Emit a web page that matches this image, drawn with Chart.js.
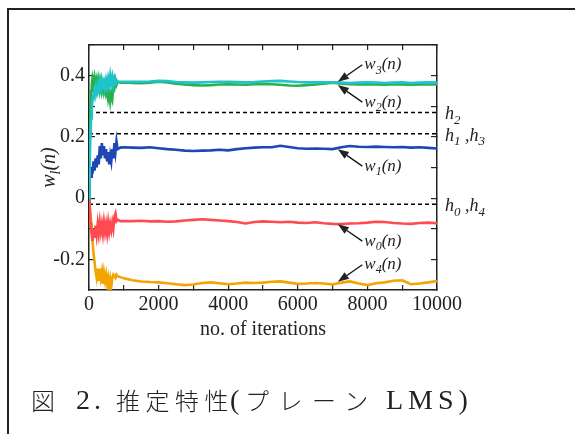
<!DOCTYPE html>
<html lang="ja">
<head>
<meta charset="utf-8">
<title>推定特性(プレーン LMS)</title>
<script src="https://cdn.jsdelivr.net/npm/chart.js"></script>
<style>
  body { margin: 0; background: #fff; }
  #wrap { position: relative; width: 575px; height: 434px; overflow: hidden; }
  #frame { position: absolute; left: 7px; top: 8px; width: 575px; height: 434px;
           border-left: 2px solid #222; border-top: 2px solid #222; }
  #chart { position: absolute; left: 0; top: 0; }
  .cap { position: absolute; top: 388px; line-height: 24px; color: #222; white-space: nowrap; }
  .cjk { font-family: "Noto Sans CJK JP", sans-serif; font-size: 24px; font-weight: 300; }
  .lat { font-family: "Liberation Serif", serif; font-size: 28px; }
</style>
</head>
<body>
<div id="wrap">
  <div id="frame"></div>
  <canvas id="chart" width="575" height="434"></canvas>
  <span class="cap cjk" style="left:31px">図</span>
  <span class="cap lat" style="left:76px; letter-spacing:4px">2.</span>
  <span class="cap cjk" style="left:116px; letter-spacing:5.5px">推定特性</span>
  <span class="cap lat" style="left:230px">(</span>
  <span class="cap cjk" style="left:245px; letter-spacing:9.5px">プレーン</span>
  <span class="cap lat" style="left:386px; letter-spacing:5px">LMS)</span>
</div>
<script>
// Iterationen (dichter im Einschwingbereich)
const iterations = [0, 20, 40, 60, 80, 100, 130, 160, 190, 220, 250, 280, 310, 340, 370, 400, 430, 460, 490, 520,
  550, 580, 610, 640, 670, 700, 730, 760, 790, 820, 900, 1000,
  1250, 1500, 1750, 2000, 2250, 2500, 2750, 3000, 3250, 3500, 3750, 4000, 4250, 4500, 4750, 5000, 5250, 5500,
  5750, 6000, 6250, 6500, 6750, 7000, 7250, 7500, 7750, 8000, 8250, 8500, 8750, 9000, 9250, 9500, 9750, 10000];

// Koeffizienten w0..w4
const w3 = [0, 0.12, 0.20, 0.26, 0.29, 0.32, 0.34, 0.33, 0.36, 0.345, 0.37, 0.355, 0.38, 0.36, 0.385, 0.365, 0.38, 0.36, 0.385, 0.365,
  0.39, 0.37, 0.40, 0.375, 0.395, 0.37, 0.39, 0.375, 0.385, 0.38, 0.38, 0.38,
  0.380, 0.380, 0.381, 0.383, 0.382, 0.379, 0.378, 0.377, 0.378, 0.379, 0.380, 0.380, 0.379, 0.378, 0.379, 0.381, 0.382, 0.383,
  0.381, 0.379, 0.378, 0.378, 0.378, 0.378, 0.377, 0.376, 0.377, 0.378, 0.377, 0.376, 0.377, 0.378, 0.376, 0.377, 0.378, 0.377];
const w2 = [0, 0.20, 0.30, 0.35, 0.37, 0.39, 0.37, 0.395, 0.375, 0.39, 0.36, 0.385, 0.355, 0.38, 0.35, 0.37, 0.345, 0.36, 0.34, 0.355,
  0.325, 0.345, 0.315, 0.34, 0.325, 0.37, 0.36, 0.385, 0.37, 0.38, 0.377, 0.378,
  0.376, 0.375, 0.377, 0.380, 0.378, 0.374, 0.371, 0.369, 0.368, 0.369, 0.371, 0.372, 0.371, 0.370, 0.372, 0.373, 0.372, 0.370,
  0.368, 0.367, 0.369, 0.371, 0.374, 0.377, 0.374, 0.372, 0.371, 0.372, 0.371, 0.370, 0.372, 0.371, 0.370, 0.371, 0.372, 0.371];
const w1 = [0, 0.06, 0.09, 0.07, 0.10, 0.08, 0.12, 0.09, 0.13, 0.10, 0.14, 0.11, 0.17, 0.13, 0.18, 0.14, 0.17, 0.13, 0.16, 0.12,
  0.15, 0.11, 0.14, 0.12, 0.16, 0.13, 0.18, 0.15, 0.185, 0.16, 0.165, 0.166,
  0.165, 0.164, 0.166, 0.163, 0.160, 0.158, 0.155, 0.154, 0.155, 0.156, 0.158, 0.156, 0.160, 0.163, 0.165, 0.166, 0.166, 0.171,
  0.167, 0.163, 0.161, 0.162, 0.161, 0.160, 0.166, 0.170, 0.168, 0.167, 0.168, 0.167, 0.166, 0.167, 0.165, 0.166, 0.164, 0.162];
const w0 = [0, -0.03, -0.07, -0.10, -0.12, -0.14, -0.10, -0.13, -0.09, -0.12, -0.085, -0.115, -0.08, -0.11, -0.085, -0.115, -0.08, -0.11, -0.085, -0.115,
  -0.08, -0.11, -0.085, -0.105, -0.08, -0.10, -0.06, -0.05, -0.075, -0.07, -0.075, -0.075,
  -0.075, -0.074, -0.076, -0.075, -0.077, -0.076, -0.073, -0.071, -0.069, -0.071, -0.073, -0.075, -0.078, -0.083, -0.078, -0.076, -0.077, -0.079,
  -0.077, -0.080, -0.081, -0.079, -0.082, -0.084, -0.085, -0.083, -0.082, -0.080, -0.077, -0.078, -0.081, -0.083, -0.084, -0.081, -0.080, -0.082];
const w4 = [0, -0.02, -0.05, -0.08, -0.11, -0.14, -0.18, -0.21, -0.24, -0.26, -0.23, -0.27, -0.23, -0.26, -0.24, -0.28, -0.245, -0.27, -0.25, -0.28,
  -0.26, -0.29, -0.265, -0.29, -0.26, -0.25, -0.255, -0.26, -0.25, -0.255, -0.258, -0.262,
  -0.268, -0.272, -0.274, -0.275, -0.278, -0.281, -0.284, -0.282, -0.277, -0.275, -0.278, -0.281, -0.279, -0.276, -0.277, -0.276, -0.273, -0.272,
  -0.276, -0.280, -0.279, -0.277, -0.279, -0.282, -0.276, -0.272, -0.279, -0.284, -0.278, -0.275, -0.270, -0.268, -0.281, -0.279, -0.275, -0.271];

// wahre Koeffizienten (gestrichelt)
const hNames = ['h_2', 'h_1 ,h_3', 'h_0 ,h_4'];
const hValues = [0.28, 0.21, -0.02];

// Pfeil-Beschriftungen
const annNames = ['w_3(n)', 'w_2(n)', 'w_1(n)', 'w_0(n)', 'w_4(n)'];
const annValues = [0.380, 0.369, 0.160, -0.085, -0.273];
const annDir = [-1, 1, 1, 1, -1];
const annIteration = 7150;

const xTicks = [0, 2000, 4000, 6000, 8000, 10000];
const yTicks = [-0.2, 0, 0.2, 0.4];

const ink = '#222';
const serif = '"Liberation Serif", "Times New Roman", serif';

function toPoints(values) {
    return iterations.map((it, i) => ({ x: it, y: values[i] }));
}

function series(values, color) {
    return { data: toPoints(values), borderColor: color, borderWidth: 2.6, pointRadius: 0, tension: 0,
             xAxisID: 'x', yAxisID: 'y' };
}

const datasets = [
    series(w3, '#1ec3cc'),
    series(w2, '#25b24c'),
    series(w1, '#1e46b4'),
    series(w0, '#ff4a52'),
    series(w4, '#f2a500')
];
hValues.forEach(h => {
    datasets.push({ data: [{ x: 0, y: h }, { x: 10000, y: h }], borderColor: '#000', borderWidth: 1.5,
                    borderDash: [4, 3], pointRadius: 0, xAxisID: 'x', yAxisID: 'y' });
});

// Text mit Indizes: "w_3(n)" -> w, tiefgestellt 3, (n)
function richParts(text) {
    const parts = [];
    let buf = '';
    for (let i = 0; i < text.length; i++) {
        if (text[i] === '_') {
            if (buf) parts.push({ t: buf, sub: false });
            buf = '';
            parts.push({ t: text[i + 1], sub: true });
            i++;
        } else {
            buf += text[i];
        }
    }
    if (buf) parts.push({ t: buf, sub: false });
    return parts;
}

function drawRich(ctx, text, x, y, size, align) {
    const parts = richParts(text);
    const big = `italic ${size}px ${serif}`;
    const small = `italic ${Math.round(size * 0.7)}px ${serif}`;
    let total = 0;
    parts.forEach(p => {
        ctx.font = p.sub ? small : big;
        p.w = ctx.measureText(p.t).width;
        total += p.w;
    });
    let cx = align === 'center' ? x - total / 2 : x;
    ctx.textAlign = 'left';
    ctx.textBaseline = 'alphabetic';
    parts.forEach(p => {
        ctx.font = p.sub ? small : big;
        ctx.fillText(p.t, cx, p.sub ? y + size * 0.25 : y);
        cx += p.w;
    });
}

function drawArrow(ctx, x0, y0, x1, y1) {
    const a = Math.atan2(y1 - y0, x1 - x0);
    const len = 11, half = 4;
    const bx = x1 - len * Math.cos(a), by = y1 - len * Math.sin(a);
    ctx.lineWidth = 1.3;
    ctx.beginPath();
    ctx.moveTo(x0, y0);
    ctx.lineTo(bx, by);
    ctx.stroke();
    ctx.beginPath();
    ctx.moveTo(x1, y1);
    ctx.lineTo(bx + half * Math.sin(a), by - half * Math.cos(a));
    ctx.lineTo(bx - half * Math.sin(a), by + half * Math.cos(a));
    ctx.closePath();
    ctx.fill();
}

const overlay = {
    id: 'overlay',
    afterDatasetsDraw(chart) {
        const { ctx, chartArea, scales: { x, y } } = chart;
        ctx.save();
        ctx.fillStyle = ink;
        ctx.strokeStyle = '#111';
        annNames.forEach((name, i) => {
            const tx = x.getPixelForValue(annIteration);
            const ty = y.getPixelForValue(annValues[i]);
            const ex = tx + 24.5, ey = ty + 17 * annDir[i];
            drawArrow(ctx, ex, ey, tx, ty);
            drawRich(ctx, name, ex + 2, ey + 4.5, 17, 'left');
        });
        hNames.forEach((name, i) => {
            drawRich(ctx, name, chartArea.right + 8, y.getPixelForValue(hValues[i]) + 7, 18, 'left');
        });
        // y-Achsentitel, gedreht
        ctx.translate(55, (chartArea.top + chartArea.bottom) / 2);
        ctx.rotate(-Math.PI / 2);
        drawRich(ctx, 'w_l(n)', 0, 0, 20, 'center');
        ctx.restore();
    }
};

const tickFont = { family: serif, size: 20 };
const edge = { color: ink, width: 1.5 };
const marks = (len) => ({ drawOnChartArea: false, drawTicks: true, tickLength: len, color: ink, lineWidth: 1.2 });

new Chart(document.getElementById('chart'), {
    type: 'line',
    data: { datasets },
    options: {
        responsive: false,
        animation: false,
        devicePixelRatio: 1,
        layout: { padding: { left: 0, top: 45, right: 138, bottom: 92 } },
        plugins: { legend: { display: false }, tooltip: { enabled: false } },
        scales: {
            x: {
                type: 'linear', position: 'bottom', min: 0, max: 10000,
                ticks: { stepSize: 1000, autoSkip: false, maxRotation: 0, padding: 8, font: tickFont, color: ink,
                         callback: v => xTicks.includes(v) ? String(v) : '' },
                grid: marks(-5),
                border: edge,
                title: { display: true, text: 'no. of iterations', font: { family: serif, size: 20 }, color: ink,
                         padding: { top: 0, bottom: 0 } },
                afterFit: s => { s.height = 52; }
            },
            xTop: {
                type: 'linear', position: 'top', min: 0, max: 10000,
                ticks: { stepSize: 1000, display: false },
                grid: marks(-5),
                border: edge,
                afterFit: s => { s.height = 0; }
            },
            y: {
                type: 'linear', position: 'left', min: -0.3, max: 0.5,
                ticks: { stepSize: 0.1, autoSkip: false, padding: 10, font: tickFont, color: ink,
                         callback: v => {
                             const k = Math.round(v * 10) / 10;
                             return yTicks.includes(k) ? String(k) : '';
                         } },
                grid: marks(-6),
                border: edge,
                afterFit: s => { s.width = 89; }
            },
            yRight: {
                type: 'linear', position: 'right', min: -0.3, max: 0.5,
                ticks: { stepSize: 0.1, display: false },
                grid: marks(-6),
                border: edge,
                afterFit: s => { s.width = 0; }
            }
        }
    },
    plugins: [overlay]
});
</script>
</body>
</html>
